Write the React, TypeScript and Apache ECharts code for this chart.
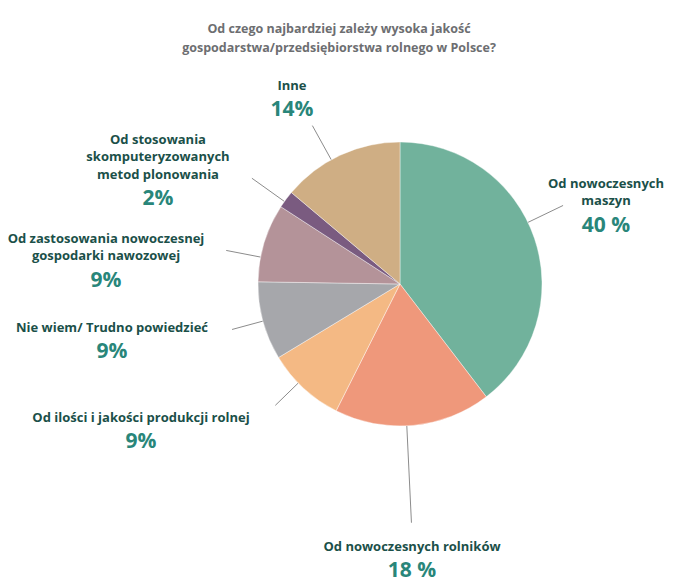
import React, { useEffect, useRef } from "react";
import * as echarts from "echarts";

const titleLines = [
  "Od czego najbardziej zależy wysoka jakość",
  "gospodarstwa/przedsiębiorstwa rolnego w Polsce?",
];
const categories = [
  "Od nowoczesnych\nmaszyn",
  "Od nowoczesnych rolników",
  "Od ilości i jakości produkcji rolnej",
  "Nie wiem/ Trudno powiedzieć",
  "Od zastosowania nowoczesnej\ngospodarki nawozowej",
  "Od stosowania\nskomputeryzowanych\nmetod plonowania",
  "Inne",
];
const values = [40, 18, 9, 9, 9, 2, 14];
const valueLabels = ["40 %", "18 %", "9%", "9%", "9%", "2%", "14%"];
const colors = ["#71b29c", "#ef987b", "#f4b984", "#a6a7ab", "#b49399", "#7a5b80", "#cfae84"];

// label layout (annotation positions): [centerX, topY, lineOuterRadius, lineAngleOffsetDeg]
const labelPos: [number, number, number, number][] = [
  [606, 174, 181, -7],
  [412, 537, 239, 2.6],
  [141, 408, 174, 3],
  [112, 318, 174, 0],
  [106, 229, 177, -6],
  [158, 130, 182, -1],
  [292, 76, 181, -4],
];

const CX = 400;
const CY = 284;
const R = 142;
const FONT = "'Open Sans', sans-serif";

export default function App() {
  const ref = useRef<HTMLDivElement>(null);
  useEffect(() => {
    document.body.style.margin = "0";
    const chart = echarts.init(ref.current!, null, { renderer: "svg" });
    const total = values.reduce((a, b) => a + b, 0);
    const mids: number[] = [];
    let cum = 0;
    values.forEach((v) => {
      mids.push(((cum + v / 2) / total) * 2 * Math.PI);
      cum += v;
    });
    chart.setOption({
      animation: false,
      backgroundColor: "#ffffff",
      title: {
        text: titleLines.join("\n"),
        left: 334,
        top: 14,
        textAlign: "center",
        textStyle: {
          fontFamily: FONT,
          fontSize: 12.5,
          fontWeight: "bold",
          color: "#6d6e71",
          lineHeight: 19,
        },
      },
      series: [
        {
          type: "pie",
          center: [CX, CY],
          radius: R,
          startAngle: 90,
          clockwise: true,
          avoidLabelOverlap: false,
          itemStyle: { borderColor: "#ffffff", borderWidth: 0.4 },
          label: {
            show: true,
            position: "outside",
            formatter: (p: any) => {
              const name = String(p.name)
                .split("\n")
                .map((s) => "{n|" + s + "}")
                .join("\n");
              return name + "\n{p|" + valueLabels[p.dataIndex] + "}";
            },
            rich: {
              n: {
                fontFamily: FONT,
                fontSize: 13,
                fontWeight: "bold",
                color: "#1b5049",
                lineHeight: 17.5,
                align: "center",
              },
              p: {
                fontFamily: FONT,
                fontSize: 21,
                fontWeight: "bold",
                color: "#29867a",
                lineHeight: 29,
                align: "center",
              },
            },
          },
          labelLine: {
            show: true,
            length: 30,
            length2: 0,
            lineStyle: { color: "#8c8c8c", width: 1 },
          },
          labelLayout: (params: any) => {
            const i = params.dataIndex;
            const [lx, ly, lr, off] = labelPos[i];
            const a = mids[i] + (off * Math.PI) / 180;
            const p1 = [CX + R * Math.sin(a), CY - R * Math.cos(a)];
            const p2 = [CX + lr * Math.sin(a), CY - lr * Math.cos(a)];
            return {
              x: lx,
              y: ly,
              align: "center",
              verticalAlign: "top",
              labelLinePoints: [p1, p2, p2],
            };
          },
          data: categories.map((c, i) => ({
            name: c,
            value: values[i],
            itemStyle: { color: colors[i] },
          })),
        },
      ],
    });
    return () => chart.dispose();
  }, []);
  return <div ref={ref} style={{ width: 676, height: 584 }} />;
}
